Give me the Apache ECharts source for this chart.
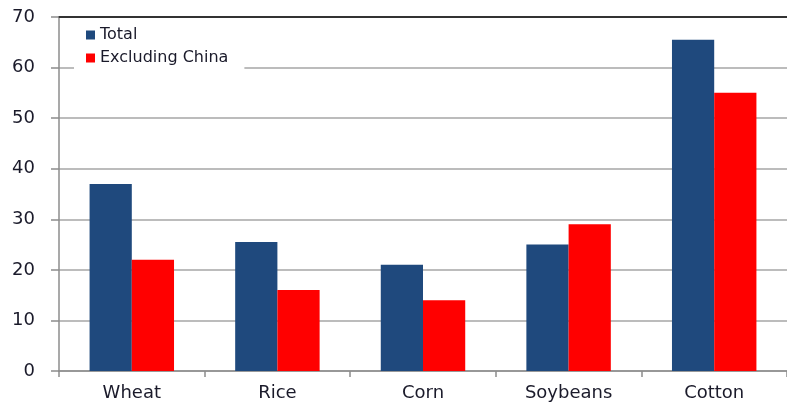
<!DOCTYPE html>
<html>
<head>
<meta charset="utf-8">
<script src="https://cdn.jsdelivr.net/npm/echarts@6/dist/echarts.min.js"></script>
<style>
  html, body { margin: 0; padding: 0; background: #fff; }
  #chart { width: 787px; height: 406px; }
</style>
</head>
<body>
<div id="chart"></div>
<script>
var crops = ['Wheat', 'Rice', 'Corn', 'Soybeans', 'Cotton'];
var totalValues = [37, 25.5, 21, 25, 65.5];
var exChinaValues = [22, 16, 14, 29, 55];

var chart = echarts.init(document.getElementById('chart'));

chart.setOption({
    animation: false,
    grid: { left: 59, right: 0, top: 17, bottom: 35 },
    legend: {
        orient: 'vertical',
        left: 74,
        top: 25,
        itemWidth: 9,
        itemHeight: 9,
        itemGap: 7,
        itemStyle: { borderWidth: 0 },
        padding: [2, 16, 8, 12],
        backgroundColor: '#fff',
        icon: 'rect',
        textStyle: { fontFamily: 'DejaVu Sans', fontSize: 16, color: '#1a1a2a' },
        data: ['Total', 'Excluding China']
    },
    xAxis: [{
        type: 'category',
        data: crops,
        axisLine: { lineStyle: { color: '#8c8c8c', width: 1.5 } },
        axisTick: { show: true, length: 6, lineStyle: { color: '#8c8c8c', width: 1.5 } },
        axisLabel: { fontFamily: 'DejaVu Sans', fontSize: 18, color: '#1a1a2a', margin: 13 }
    }, {
        type: 'category',
        position: 'top',
        data: crops,
        axisLine: { show: true, lineStyle: { color: '#333', width: 2 } },
        axisTick: { show: false },
        axisLabel: { show: false }
    }],
    yAxis: {
        type: 'value',
        min: 0,
        max: 70,
        interval: 10,
        axisLine: { show: true, lineStyle: { color: '#8c8c8c', width: 1.5 } },
        axisTick: { show: true, length: 8, lineStyle: { color: '#8c8c8c', width: 1.5 } },
        axisLabel: { fontFamily: 'DejaVu Sans', fontSize: 18, color: '#1a1a2a', margin: 24 },
        splitLine: { lineStyle: { color: '#a6a6a6', width: 1.5 } }
    },
    series: [{
        name: 'Total',
        type: 'bar',
        data: totalValues,
        barGap: '0%',
        barCategoryGap: '42%',
        itemStyle: { color: '#1f497d' }
    }, {
        name: 'Excluding China',
        type: 'bar',
        data: exChinaValues,
        itemStyle: { color: '#ff0000' }
    }]
});
</script>
</body>
</html>
